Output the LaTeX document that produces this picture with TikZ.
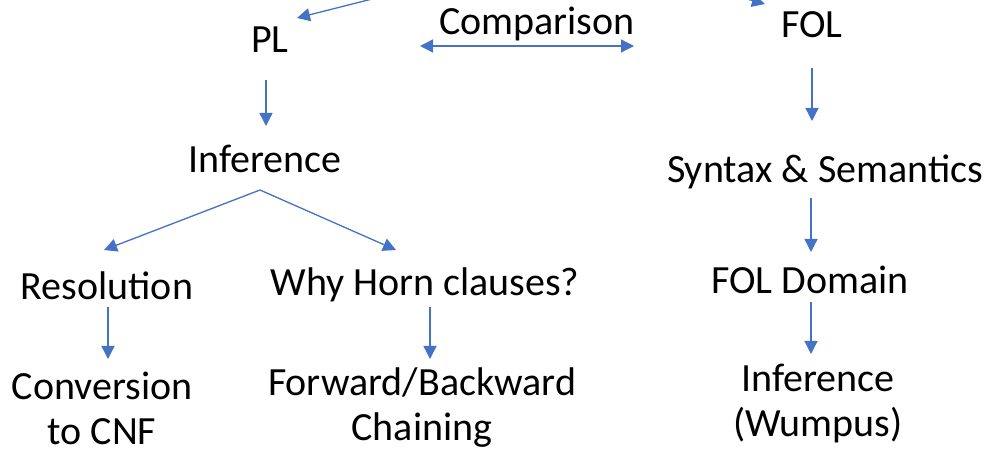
\documentclass[tikz,border=0pt]{standalone}
\usepackage{fontspec}
\setmainfont{Carlito}
\usetikzlibrary{arrows.meta}
\definecolor{arrowblue}{HTML}{4472C4}
\tikzset{
  lbl/.style={font=\fontsize{40}{45}\selectfont, inner sep=0pt, align=center, text=black},
  conn/.style={draw=arrowblue, line width=1.3pt, -{Triangle[length=13pt,width=13pt]}},
  biconn/.style={draw=arrowblue, line width=1.3pt, {Triangle[length=13pt,width=13pt]}-{Triangle[length=13pt,width=13pt]}}
}
\begin{document}
\begin{tikzpicture}[x=1pt,y=-1pt]
\useasboundingbox (0,0) rectangle (986,454);
% labels
\node[lbl] (pl) at (270,40) {PL};
\node[lbl] (cmp) at (537,24) {Comparison};
\node[lbl] (fol) at (812,25) {FOL};
\node[lbl] (inf) at (265,159) {Inference};
\node[lbl] (res) at (107,286) {Resolution};
\node[lbl] (horn) at (425,285) {Why Horn clauses?};
\node[lbl] (cnf) at (102,408) {Conversion\\to CNF};
\node[lbl] (fwd) at (422,408) {Forward/Backward\\Chaining};
\node[lbl] (syn) at (825,172) {Syntax \& Semantics};
\node[lbl] (dom) at (810,280) {FOL Domain};
\node[lbl] (wum) at (818,404) {Inference\\(Wumpus)};
% coordinates
\coordinate (tlA) at (380,-3);
\coordinate (tlB) at (297,18);
\coordinate (trA) at (700,-14);
\coordinate (trB) at (765,4);
\coordinate (cmpL) at (420,46);
\coordinate (cmpR) at (634,46);
\coordinate (plA) at (266,80);
\coordinate (plB) at (266,126);
\coordinate (split) at (260,190);
\coordinate (resTop) at (104,250);
\coordinate (hornTop) at (396,250);
\coordinate (resA) at (108,307);
\coordinate (resB) at (108,359);
\coordinate (hornA) at (430,307);
\coordinate (hornB) at (430,359);
\coordinate (folA) at (812,68);
\coordinate (folB) at (812,121);
\coordinate (synA) at (811,198);
\coordinate (synB) at (811,252);
\coordinate (domA) at (811,302);
\coordinate (domB) at (811,354);
% connectors
\draw[conn] (tlA) -- (tlB);
\draw[conn] (trA) -- (trB);
\draw[biconn] (cmpL) -- (cmpR);
\draw[conn] (plA) -- (plB);
\draw[conn] (split) -- (resTop);
\draw[conn] (split) -- (hornTop);
\draw[conn] (resA) -- (resB);
\draw[conn] (hornA) -- (hornB);
\draw[conn] (folA) -- (folB);
\draw[conn] (synA) -- (synB);
\draw[conn] (domA) -- (domB);
\end{tikzpicture}
\end{document}
